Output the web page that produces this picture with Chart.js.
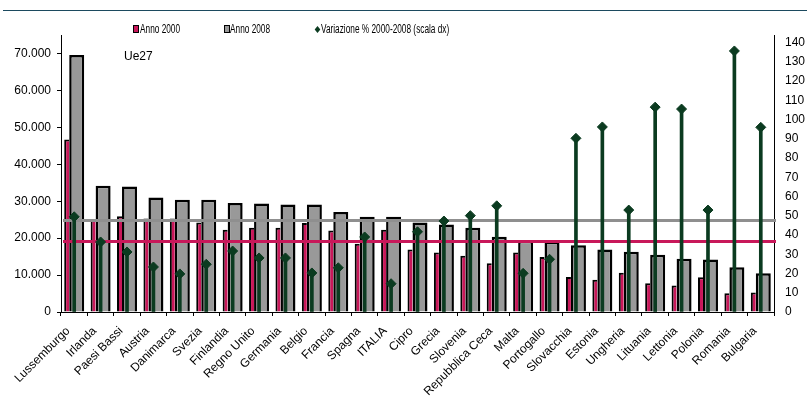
<!DOCTYPE html>
<html>
<head>
<meta charset="utf-8">
<script src="https://cdn.jsdelivr.net/npm/chart.js@4/dist/chart.umd.min.js"></script>
<style>
  body { margin: 0; background: #fff; }
  #wrap { position: relative; width: 807px; height: 402px; overflow: hidden; }
  #topline { position: absolute; left: 3px; top: 10px; width: 804px; height: 1px; background: #1c4a5f; }
  .leg { position: absolute; top: 23px; height: 12px; font: 12px "Liberation Sans", Arial, sans-serif; line-height: 12px; white-space: nowrap; }
  .leg span.t { display: inline-block; transform: scaleX(0.69); transform-origin: left center; }
  .box { position: absolute; top: 2px; width: 4px; height: 6px; border: 1px solid #000; }
  .diam { position: absolute; top: 4px; left: 0; width: 5px; height: 5px; background: #0b3b20; transform: scaleX(0.8) rotate(45deg); }
  #ue27 { position: absolute; left: 124px; top: 49px; font: 12px "Liberation Sans", Arial, sans-serif; }
  canvas { position: absolute; left: 0; top: 0; }
</style>
</head>
<body>
<div id="wrap">
  <canvas id="grafico" width="807" height="402"></canvas>
  <div id="topline"></div>
  <div class="leg" style="left:133px"><div class="box" style="background:#c8185a"></div><span class="t" style="margin-left:7px">Anno 2000</span></div>
  <div class="leg" style="left:224px"><div class="box" style="background:#999"></div><span class="t" style="margin-left:6px">Anno 2008</span></div>
  <div class="leg" style="left:315px"><div class="diam"></div><span class="t" style="margin-left:6px">Variazione % 2000-2008 (scala dx)</span></div>
  <div id="ue27">Ue27</div>
</div>
<script>
// paesi Ue27 ordinati per pil pro capite 2008
var paesi = ["Lussemburgo", "Irlanda", "Paesi Bassi", "Austria", "Danimarca", "Svezia", "Finlandia",
  "Regno Unito", "Germania", "Belgio", "Francia", "Spagna", "ITALIA", "Cipro", "Grecia", "Slovenia",
  "Repubblica Ceca", "Malta", "Portogallo", "Slovacchia", "Estonia", "Ungheria", "Lituania",
  "Lettonia", "Polonia", "Romania", "Bulgaria"];
var anno2000 = [46700, 24900, 25900, 25300, 25300, 24200, 22300, 22800, 22800, 24100, 22100, 18500,
  22300, 16900, 16100, 15200, 13200, 16100, 14900, 9500, 8700, 10600, 7800, 7200, 9400, 5100, 5300];
var anno2008 = [69600, 34200, 34000, 31000, 30400, 30400, 29500, 29400, 29100, 29100, 27100, 25800,
  25800, 24200, 23700, 22800, 20400, 19300, 19000, 18100, 16900, 16300, 15500, 14400, 14200, 12100, 10500];
var variazione = [49.5, 36.4, 31.2, 23.4, 19.8, 24.8, 31.7, 28.1, 28.1, 20.3, 23.0, 39.0, 14.7, 41.7,
  47.3, 50.1, 55.2, 20.1, 27.4, 90.3, 96.2, 53.0, 106.5, 105.5, 53.0, 135.7, 96.0];
// medie Ue27 (linee orizzontali)
var mediaUe27_2000 = 19100;
var mediaUe27_2008 = 24800;
// etichette degli assi
var tickSinistra = [0, 10000, 20000, 30000, 40000, 50000, 60000, 70000];
var tickDestra = [0, 10, 20, 30, 40, 50, 60, 70, 80, 90, 100, 110, 120, 130, 140];

var rosso = "#c8185a";
var grigio = "#999999";
var verde = "#0b3b20";

Chart.defaults.font.family = "'Liberation Sans', Arial, sans-serif";
Chart.defaults.font.size = 12;
Chart.defaults.color = "#000";

// linee della media, disegnate sopra le barre e sotto le aste
var lineeMedia = {
  id: "lineeMedia",
  beforeDatasetDraw: function(chart, args) {
    if (args.index !== 1) return;
    var ctx = chart.ctx;
    var area = chart.chartArea;
    var medie = [[mediaUe27_2008, "#8f8f8f"], [mediaUe27_2000, rosso]];
    medie.forEach(function(m) {
      var y = chart.scales.y.getPixelForValue(m[0]);
      ctx.save();
      ctx.strokeStyle = m[1];
      ctx.lineWidth = 3;
      ctx.beginPath();
      ctx.moveTo(area.left + 2, y);
      ctx.lineTo(area.right + 2, y);
      ctx.stroke();
      ctx.restore();
    });
  }
};

function puntiMigliaia(v) {
  return String(v).replace(/\B(?=(\d{3})+(?!\d))/g, ".");
}

function usaTick(valori) {
  return function(scale) {
    scale.ticks = valori.map(function(v) { return { value: v }; });
  };
}

var ctx = document.getElementById("grafico");
var grafico = new Chart(ctx, {
  type: "bar",
  data: {
    labels: paesi,
    datasets: [
      {
        type: "line",
        label: "Variazione % 2000-2008 (scala dx)",
        data: variazione,
        yAxisID: "y1",
        order: 0,
        showLine: false,
        pointStyle: "rectRot",
        pointRadius: 5,
        pointBorderWidth: 1,
        backgroundColor: verde,
        borderColor: verde
      },
      {
        label: "asta",
        data: variazione,
        yAxisID: "y1",
        order: 1,
        grouped: false,
        barThickness: 3,
        backgroundColor: verde,
        borderWidth: 0
      },
      {
        label: "Anno 2000",
        data: anno2000,
        yAxisID: "y",
        order: 2,
        categoryPercentage: 30 / 26.41,
        barPercentage: 1 / 3,
        backgroundColor: rosso,
        borderColor: "#000",
        borderWidth: { left: 2, top: 2, right: 0, bottom: 0 }
      },
      {
        label: "Anno 2008",
        data: anno2008,
        yAxisID: "y",
        order: 3,
        categoryPercentage: 10 / 26.41,
        barPercentage: 3,
        backgroundColor: grigio,
        borderColor: "#000",
        borderWidth: 2.5
      }
    ]
  },
  options: {
    responsive: false,
    animation: false,
    events: [],
    layout: { padding: { top: 35, left: 0, right: 0, bottom: 0 } },
    plugins: {
      legend: { display: false },
      tooltip: { enabled: false }
    },
    scales: {
      x: {
        grid: { drawOnChartArea: false, drawTicks: true, tickLength: 4, color: "#000", offset: true },
        border: { display: true, color: "#000", width: 1 },
        ticks: { autoSkip: false, minRotation: 45, maxRotation: 45, padding: 8, labelOffset: -6 },
        afterFit: function(scale) { scale.height = 90; }
      },
      y: {
        position: "left",
        min: 0,
        max: 75000,
        afterBuildTicks: usaTick(tickSinistra),
        ticks: { autoSkip: false, padding: 6, callback: puntiMigliaia },
        grid: { drawOnChartArea: false, drawTicks: true, tickLength: 4, color: "#000" },
        border: { display: true, color: "#000", width: 1 },
        afterFit: function(scale) { scale.width = 61; }
      },
      y1: {
        position: "right",
        min: 0,
        max: 144,
        afterBuildTicks: usaTick(tickDestra),
        ticks: { autoSkip: false, padding: 11 },
        grid: { drawOnChartArea: false, drawTicks: false },
        border: { display: true, color: "#000", width: 1 },
        afterFit: function(scale) { scale.width = 33; }
      }
    }
  },
  plugins: [lineeMedia]
});
</script>
</body>
</html>
